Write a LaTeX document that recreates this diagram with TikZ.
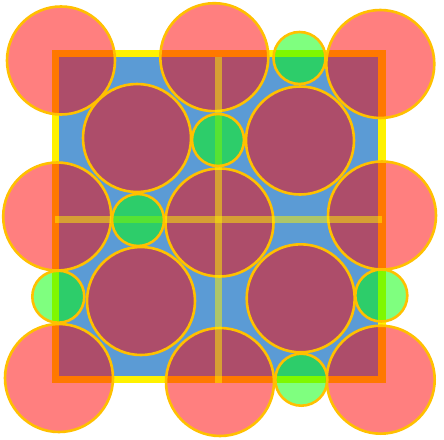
\documentclass[tikz,border=0pt]{standalone}
\usepackage{xcolor}
\usepackage{tikz}

\definecolor{fieldblue}{HTML}{5B9BD5}
\definecolor{rimgold}{HTML}{FFC000}

\begin{document}
\begin{tikzpicture}[
    x=1pt, y=-1pt,
    field/.style={draw=yellow, line width=7.5pt, fill=fieldblue},
    crossbar/.style={draw=yellow, line width=7.5pt, draw opacity=0.5},
    bigdisc/.style={draw=rimgold, line width=2.6pt, fill=red, fill opacity=0.5, draw opacity=1},
    smalldisc/.style={draw=rimgold, line width=2.6pt, fill=green, fill opacity=0.5, draw opacity=1}
]
\useasboundingbox (0,0) rectangle (444,439);

% the field
\path[field] (55.5,53.5) rectangle (382,379.7);

% big discs
\foreach \cx/\cy in {61/60.5, 214.3/57.2, 380.3/64, 57.2/216.5, 219.5/222.5, 382/215.5,
                     59/378, 220/382, 380.7/379.7, 137/138, 300/140.5, 141/301, 300.7/298.3}
    \path[bigdisc] (\cx,\cy) circle (54);

% the cross
\path[crossbar] (55,219.5) -- (382,219.5);
\path[crossbar] (218.5,57) -- (218.5,383);

% small discs
\foreach \cx/\cy in {299.5/58, 218/140, 138/220, 58.3/296.7, 381.3/295.5, 301.3/379.7}
    \path[smalldisc] (\cx,\cy) circle (26);

\end{tikzpicture}
\end{document}
